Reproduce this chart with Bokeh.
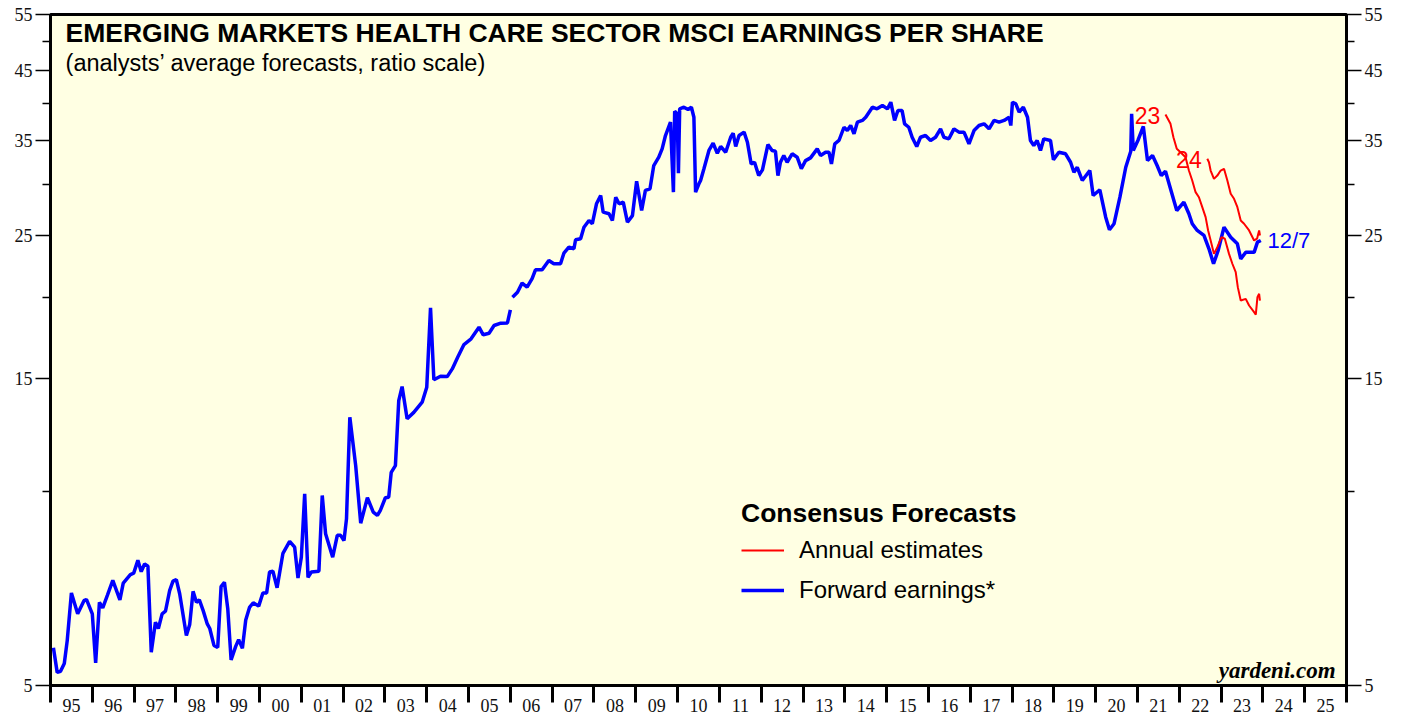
from bokeh.plotting import figure
from bokeh.models import (FixedTicker, LogAxis, CustomJSTickFormatter, Label,
                          Legend, LegendItem, Range1d)
from bokeh.embed import file_html
from bokeh.resources import INLINE

nan = float("nan")

# Forward earnings (blue), monthly until 2006 then weekly; gap at start of 2006
fwd_year = [
    1995.07, 1995.16, 1995.24, 1995.33, 1995.40, 1995.50, 1995.65, 1995.80, 1995.86, 1996.00,
    1996.08, 1996.17, 1996.25, 1996.36, 1996.49, 1996.66, 1996.74, 1996.91, 1996.99, 1997.09,
    1997.17, 1997.25, 1997.33, 1997.41, 1997.51, 1997.58, 1997.67, 1997.75, 1997.85, 1997.93,
    1998.01, 1998.09, 1998.25, 1998.33, 1998.41, 1998.49, 1998.56, 1998.65, 1998.75, 1998.81,
    1998.91, 1999.00, 1999.08, 1999.16, 1999.24, 1999.32, 1999.43, 1999.50, 1999.59, 1999.67,
    1999.76, 1999.85, 1999.98, 2000.08, 2000.17, 2000.24, 2000.32, 2000.42, 2000.56, 2000.72,
    2000.84, 2000.92, 2001.00, 2001.08, 2001.16, 2001.24, 2001.42, 2001.50, 2001.58, 2001.75,
    2001.86, 2001.94, 2002.02, 2002.08, 2002.16, 2002.30, 2002.42, 2002.58, 2002.72, 2002.82,
    2002.89, 2003.01, 2003.09, 2003.15, 2003.25, 2003.33, 2003.41, 2003.53, 2003.69, 2003.89,
    2004.00, 2004.09, 2004.17, 2004.33, 2004.49, 2004.61, 2004.74, 2004.89, 2005.06, 2005.25,
    2005.35, 2005.49, 2005.61, 2005.77, 2005.93, 2006.00, 2006.02,
    2006.05, 2006.17, 2006.28, 2006.40, 2006.52, 2006.60, 2006.76, 2006.92, 2007.04, 2007.20,
    2007.28, 2007.40, 2007.52, 2007.56, 2007.68, 2007.76, 2007.88, 2007.96, 2008.06, 2008.16,
    2008.22, 2008.36, 2008.44, 2008.52, 2008.60, 2008.70, 2008.80, 2008.92, 2009.02, 2009.14,
    2009.23, 2009.34, 2009.43, 2009.55, 2009.63, 2009.71, 2009.77, 2009.83, 2009.90, 2009.93,
    2009.99, 2010.02, 2010.05, 2010.15, 2010.25, 2010.33, 2010.39, 2010.43, 2010.51, 2010.55,
    2010.63, 2010.75, 2010.85, 2010.95, 2011.03, 2011.15, 2011.27, 2011.33, 2011.39, 2011.47,
    2011.59, 2011.67, 2011.76, 2011.84, 2011.94, 2012.03, 2012.16, 2012.26, 2012.34, 2012.40,
    2012.46, 2012.54, 2012.62, 2012.74, 2012.86, 2012.96, 2013.06, 2013.18, 2013.34, 2013.42,
    2013.54, 2013.62, 2013.68, 2013.76, 2013.86, 2013.98, 2014.06, 2014.14, 2014.22, 2014.30,
    2014.42, 2014.50, 2014.66, 2014.77, 2014.90, 2015.02, 2015.10, 2015.19, 2015.27, 2015.37,
    2015.43, 2015.53, 2015.61, 2015.72, 2015.81, 2015.93, 2016.05, 2016.17, 2016.29, 2016.37,
    2016.49, 2016.61, 2016.73, 2016.85, 2016.97, 2017.09, 2017.21, 2017.33, 2017.45, 2017.57,
    2017.69, 2017.81, 2017.93, 2017.97, 2018.01, 2018.09, 2018.17, 2018.27, 2018.37, 2018.44,
    2018.52, 2018.60, 2018.68, 2018.76, 2018.92, 2018.99, 2019.12, 2019.28, 2019.40, 2019.48,
    2019.56, 2019.68, 2019.86, 2019.94, 2020.10, 2020.24, 2020.33, 2020.44, 2020.58, 2020.72,
    2020.84, 2020.86, 2020.90, 2021.01, 2021.14, 2021.24, 2021.36, 2021.47, 2021.57, 2021.67,
    2021.79, 2021.94, 2022.11, 2022.23, 2022.31, 2022.43, 2022.59, 2022.71, 2022.82, 2022.93,
    2023.07, 2023.23, 2023.39, 2023.47, 2023.59, 2023.79, 2023.87, 2023.95,
]
fwd_eps = [
    5.72, 5.24, 5.26, 5.41, 5.87, 6.96, 6.46, 6.77, 6.80, 6.46,
    5.42, 6.73, 6.60, 6.90, 7.28, 6.79, 7.21, 7.43, 7.47, 7.82,
    7.51, 7.72, 7.66, 5.63, 6.27, 6.13, 6.46, 6.52, 7.02, 7.26,
    7.30, 6.94, 5.98, 6.22, 7.00, 6.73, 6.79, 6.54, 6.23, 6.13,
    5.77, 5.73, 7.12, 7.23, 6.58, 5.48, 5.75, 5.89, 5.71, 6.32,
    6.61, 6.72, 6.64, 6.96, 6.96, 7.50, 7.52, 7.09, 8.02, 8.37,
    8.20, 7.34, 7.91, 9.92, 7.36, 7.50, 7.52, 9.86, 8.60, 7.91,
    8.55, 8.55, 8.39, 9.07, 13.04, 10.97, 8.93, 9.78, 9.29, 9.18,
    9.35, 9.78, 9.80, 10.71, 10.97, 13.84, 14.55, 12.97, 13.27, 13.76,
    14.52, 19.28, 14.91, 15.10, 15.08, 15.50, 16.16, 16.91, 17.26, 17.99,
    17.51, 17.61, 18.10, 18.25, 18.27, 19.14, nan,
    20.03, 20.39, 21.06, 20.76, 21.40, 22.09, 22.09, 22.84, 22.57, 22.57,
    23.44, 23.95, 23.81, 24.59, 24.68, 25.72, 26.34, 26.04, 27.96, 28.80,
    27.14, 26.98, 26.34, 28.63, 27.96, 28.12, 26.18, 26.81, 30.31, 27.30,
    29.33, 29.50, 32.06, 33.03, 34.03, 35.69, 36.55, 37.43, 29.15, 38.93,
    38.57, 31.19, 39.26, 39.49, 39.16, 39.49, 38.10, 29.15, 30.03, 30.39,
    31.69, 33.83, 34.72, 33.49, 34.32, 33.62, 35.47, 35.98, 34.32, 35.69,
    36.12, 34.84, 32.25, 32.44, 30.93, 31.57, 34.56, 33.83, 33.74, 30.93,
    32.44, 33.23, 32.44, 33.43, 33.03, 31.69, 32.63, 32.95, 34.03, 33.23,
    33.62, 33.62, 32.25, 34.65, 35.06, 36.76, 36.33, 36.99, 35.91, 37.43,
    37.67, 38.10, 39.49, 39.26, 39.73, 39.26, 40.20, 37.67, 39.02, 39.02,
    37.21, 36.76, 35.47, 34.32, 35.47, 35.69, 35.06, 35.47, 36.55, 35.47,
    35.27, 36.55, 36.12, 36.12, 34.65, 36.33, 36.99, 37.21, 36.55, 37.67,
    37.43, 37.67, 38.10, 36.99, 40.20, 39.96, 38.79, 39.49, 38.10, 35.06,
    34.43, 35.06, 33.83, 35.27, 35.06, 32.72, 33.62, 33.43, 32.44, 31.30,
    31.86, 30.39, 31.49, 28.80, 29.40, 26.66, 25.49, 26.04, 28.63, 31.86,
    33.74, 38.57, 33.83, 35.06, 36.86, 32.63, 33.23, 32.06, 30.93, 31.42,
    29.50, 27.30, 28.12, 26.98, 26.04, 25.42, 24.97, 23.81, 22.57, 23.66,
    25.72, 24.82, 24.24, 22.97, 23.51, 23.51, 24.38, 24.53,
]

# Annual estimates for 2023 (red)
est23_year = [2021.67, 2021.79, 2021.86, 2021.94, 2022.03, 2022.15, 2022.23, 2022.31, 2022.39, 2022.47,
              2022.55, 2022.63, 2022.69, 2022.77, 2022.83, 2022.91, 2023.01, 2023.09, 2023.19, 2023.27,
              2023.35, 2023.40, 2023.47, 2023.59, 2023.67, 2023.79, 2023.83, 2023.87, 2023.91, 2023.93]
est23_eps = [38.47, 37.21, 35.47, 34.03, 33.62, 33.03, 31.49, 30.39, 29.15, 28.63,
             27.63, 26.66, 25.42, 24.24, 23.38, 23.95, 24.82, 24.68, 23.38, 22.57,
             21.90, 20.76, 19.79, 19.91, 19.44, 18.98, 18.82, 20.03, 20.27, 19.79]

# Annual estimates for 2024 (red)
est24_year = [2022.67, 2022.71, 2022.75, 2022.83, 2022.91, 2022.99, 2023.07, 2023.15, 2023.23, 2023.31,
              2023.39, 2023.47, 2023.55, 2023.67, 2023.79, 2023.86, 2023.91, 2023.93]
est24_eps = [32.84, 32.44, 31.49, 30.57, 30.93, 31.49, 31.69, 30.39, 28.98, 28.47,
             27.63, 26.34, 26.04, 25.42, 24.53, 24.68, 25.42, 24.97]

year_ticks = list(range(1995, 2027))
year_label_pos = [y + 0.5 for y in range(1995, 2026)]
y_major = [5, 15, 25, 35, 45, 55]
y_minor = [10, 20, 30, 40, 50]

assert len(fwd_year) == len(fwd_eps)
assert len(est23_year) == len(est23_eps)
assert len(est24_year) == len(est24_eps)

SANS = "Liberation Sans"
SERIF = "Liberation Serif"
BLUE = "#0000FF"
RED = "#FF0000"

p = figure(width=1405, height=717, x_range=Range1d(1995, 2026), y_range=Range1d(5, 55),
           y_axis_type="log", output_backend="svg", toolbar_location=None,
           min_border_left=50, min_border_right=59, min_border_top=14, min_border_bottom=32,
           background_fill_color="#FFFFE3", border_fill_color="white",
           outline_line_color="black", outline_line_width=3)
p.xgrid.visible = False
p.ygrid.visible = False

# x axis: boundary ticks as minor ticks, labels at mid-year
xa = p.xaxis[0]
xa.ticker = FixedTicker(ticks=year_label_pos, minor_ticks=year_ticks)
xa.formatter = CustomJSTickFormatter(code="return String(Math.floor(tick) % 100).padStart(2, '0');")
xa.major_tick_out = 0
xa.major_tick_in = 0
xa.minor_tick_out = 17
xa.minor_tick_in = 0
xa.minor_tick_line_width = 3
xa.minor_tick_line_color = "black"
xa.axis_line_width = 3
xa.axis_line_color = "black"
xa.major_label_standoff = -4
xa.major_label_text_font = SERIF
xa.major_label_text_font_size = "18px"
xa.major_label_text_color = "#111111"

yfmt = CustomJSTickFormatter(code="return tick.toFixed(0);")


def style_y(ax):
    ax.ticker = FixedTicker(ticks=y_major, minor_ticks=y_minor)
    ax.formatter = yfmt
    ax.major_tick_out = 15
    ax.major_tick_in = 0
    ax.minor_tick_out = 8
    ax.minor_tick_in = 0
    ax.major_tick_line_width = 1.5
    ax.minor_tick_line_width = 1.5
    ax.major_tick_line_color = "black"
    ax.minor_tick_line_color = "black"
    ax.axis_line_width = 3
    ax.axis_line_color = "black"
    ax.major_label_standoff = 3
    ax.major_label_text_font = SERIF
    ax.major_label_text_font_size = "18px"
    ax.major_label_text_color = "#111111"


style_y(p.yaxis[0])
ra = LogAxis()
style_y(ra)
p.add_layout(ra, "right")

r_fwd = p.line(fwd_year, fwd_eps, line_color=BLUE, line_width=3.5)
r23 = p.line(est23_year, est23_eps, line_color=RED, line_width=2)
r24 = p.line(est24_year, est24_eps, line_color=RED, line_width=2)

# Titles
p.add_layout(Label(x=1995.36, y=51.4, text="EMERGING MARKETS HEALTH CARE SECTOR MSCI EARNINGS PER SHARE",
                   text_font=SANS, text_font_style="bold", text_font_size="26.5px",
                   text_align="left", text_baseline="middle", text_color="black"))
p.add_layout(Label(x=1995.36, y=46.3, text="(analysts\u2019 average forecasts, ratio scale)",
                   text_font=SANS, text_font_size="23.5px",
                   text_align="left", text_baseline="middle", text_color="black"))

# Series annotations
p.add_layout(Label(x=2021.24, y=38.4, text="23", text_font=SANS, text_font_size="23px",
                   text_color=RED, text_align="center", text_baseline="middle"))
p.add_layout(Label(x=2022.23, y=32.7, text="24", text_font=SANS, text_font_size="23px",
                   text_color=RED, text_align="center", text_baseline="middle"))
p.add_layout(Label(x=2024.11, y=24.5, text="12/7", text_font=SANS, text_font_size="22px",
                   text_color=BLUE, text_align="left", text_baseline="middle"))

p.add_layout(Label(x=2025.74, y=5.27, text="yardeni.com", text_font=SERIF,
                   text_font_style="bold italic", text_font_size="23px",
                   text_color="black", text_align="right", text_baseline="middle"))

legend = Legend(items=[LegendItem(label="Annual estimates", renderers=[r23]),
                       LegendItem(label="Forward earnings*", renderers=[r_fwd])],
                title="Consensus Forecasts", location=(691, 80),
                title_text_font=SANS, title_text_font_style="bold", title_text_font_size="26.5px",
                title_text_color="black", title_standoff=6,
                label_text_font=SANS, label_text_font_size="24px", label_text_color="black",
                glyph_width=43, glyph_height=30, label_height=30, spacing=10,
                label_standoff=15, padding=0, margin=0,
                border_line_alpha=0, background_fill_alpha=0)
p.add_layout(legend)

open("out.html", "w").write(file_html(p, INLINE))
